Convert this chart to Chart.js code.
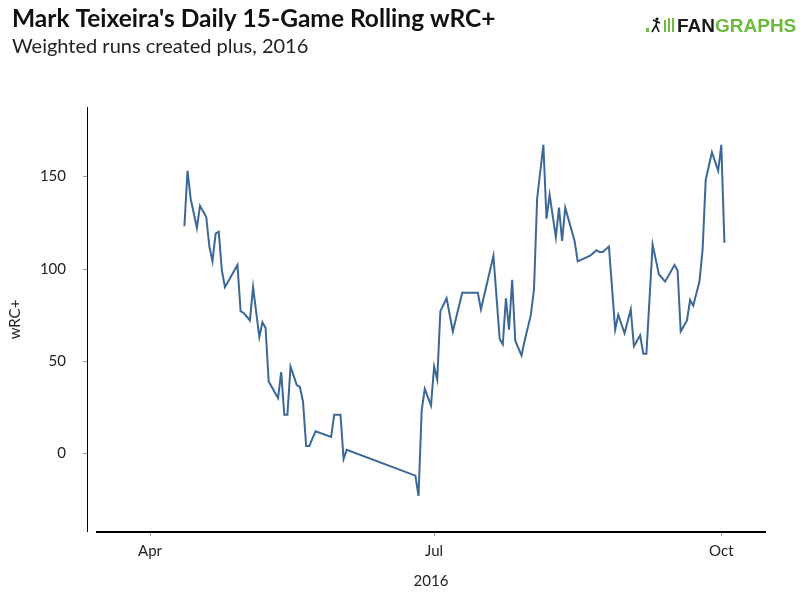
<!DOCTYPE html>
<html><head><meta charset="utf-8">
<script src="https://cdn.jsdelivr.net/npm/chart.js@4.4.0/dist/chart.umd.min.js"></script>
<style>html,body{margin:0;padding:0;background:#fff;}#wrap{width:806px;height:598px;position:relative;}</style>
</head><body><div id="wrap"><canvas id="c"></canvas></div>
<script>
const titleText = "Mark Teixeira's Daily 15-Game Rolling wRC+";
const subtitleText = "Weighted runs created plus, 2016";
const xTitleText = "2016";
const yTitleText = "wRC+";

const gameDates = [
 '2016-04-12','2016-04-13','2016-04-14','2016-04-16','2016-04-17','2016-04-19','2016-04-20','2016-04-21','2016-04-22','2016-04-23',
 '2016-04-24','2016-04-25','2016-04-29','2016-04-30','2016-05-01','2016-05-03','2016-05-04','2016-05-06','2016-05-07','2016-05-08',
 '2016-05-09','2016-05-12','2016-05-13','2016-05-14','2016-05-15','2016-05-16','2016-05-18','2016-05-19','2016-05-20','2016-05-21',
 '2016-05-22','2016-05-24','2016-05-29','2016-05-30','2016-06-01','2016-06-02','2016-06-03','2016-06-25','2016-06-26','2016-06-27',
 '2016-06-28','2016-06-30','2016-07-01','2016-07-02','2016-07-03','2016-07-05','2016-07-07','2016-07-10','2016-07-15','2016-07-16',
 '2016-07-20','2016-07-22','2016-07-23','2016-07-24','2016-07-25','2016-07-26','2016-07-27','2016-07-29','2016-07-30','2016-07-31',
 '2016-08-01','2016-08-02','2016-08-03','2016-08-05','2016-08-06','2016-08-07','2016-08-09','2016-08-10','2016-08-11','2016-08-12',
 '2016-08-15','2016-08-16','2016-08-20','2016-08-22','2016-08-23','2016-08-24','2016-08-26','2016-08-28','2016-08-29','2016-08-31',
 '2016-09-02','2016-09-03','2016-09-05','2016-09-06','2016-09-07','2016-09-09','2016-09-11','2016-09-13','2016-09-16','2016-09-17',
 '2016-09-18','2016-09-20','2016-09-21','2016-09-22','2016-09-24','2016-09-25','2016-09-26','2016-09-28','2016-09-30','2016-10-01',
 '2016-10-02'
];
const wrcPlus = [
 123,153,138,122,134,128,112,104,119,120,
 99,90,102,77,76,72,90,63,71,68,
 39,30,44,21,21,47,37,36,28,4,
 4,12,9,21,21,-3,2,-12,-23,23,
 35,26,47,40,77,84,66,87,87,78,
 107,62,59,84,67,94,61,53,61,68,
 75,89,138,167,127,140,117,133,115,133,
 115,104,107,110,109,109,112,67,75,65,
 78,58,64,54,54,113,97,93,102,99,
 66,72,83,80,93,110,148,163,153,167,
 114
];
const xTickDates = ['2016-04-01','2016-07-01','2016-10-01'];
const xTickLabels = ['Apr','Jul','Oct'];
const xRangeDates = ['2016-03-15','2016-10-15'];
const yTickValues = [0,50,100,150];
const yRange = [-42.5,187.5];

function dayOfYear(s){const p=s.split('-').map(Number);return (Date.UTC(p[0],p[1]-1,p[2])-Date.UTC(p[0],0,1))/86400000;}

const decor = {
  id:'decor',
  afterDraw(chart){
    const ctx=chart.ctx, ca=chart.chartArea, ys=chart.scales.y;
    ctx.save();
    const ax = ca.left-10;
    ctx.strokeStyle='#000'; ctx.lineWidth=1;
    ctx.beginPath(); ctx.moveTo(ax+0.5,ca.top); ctx.lineTo(ax+0.5,ca.bottom); ctx.stroke();
    ctx.strokeStyle='#999';
    yTickValues.forEach(v=>{const py=Math.round(ys.getPixelForValue(v))+0.5;ctx.beginPath();ctx.moveTo(ax-4,py);ctx.lineTo(ax,py);ctx.stroke();});
    ctx.fillStyle='#111'; ctx.textBaseline='alphabetic'; ctx.textAlign='left';
    ctx.font='bold 24.5px Lato'; ctx.fillText(titleText,12,27);
    ctx.font='20px Lato'; ctx.fillStyle='#222'; ctx.fillText(subtitleText,12,53);
    const green='#6cbb3c';
    ctx.fillStyle=green; ctx.fillRect(646,28,3,4);
    ctx.strokeStyle='#111'; ctx.lineWidth=1.6;
    ctx.beginPath(); ctx.moveTo(652,32); ctx.lineTo(656,25); ctx.lineTo(659,32); ctx.moveTo(656,25); ctx.lineTo(657,21); ctx.moveTo(653,20); ctx.lineTo(660,23); ctx.stroke();
    ctx.beginPath(); ctx.arc(657,19,1.6,0,Math.PI*2); ctx.fillStyle='#111'; ctx.fill();
    ctx.fillStyle=green; ctx.fillRect(664,20,2,12); ctx.fillRect(668,18,2,14); ctx.fillRect(672,18,2,14);
    ctx.font='bold 19px "Liberation Sans"';
    ctx.fillStyle='#1a1a1a'; ctx.fillText('FAN',677,32);
    const w=ctx.measureText('FAN').width;
    ctx.fillStyle=green; ctx.fillText('GRAPHS',677+w,32);
    ctx.restore();
  }
};

new Chart(document.getElementById('c'),{
  type:'line',
  data:{datasets:[{data:gameDates.map((d,i)=>({x:dayOfYear(d),y:wrcPlus[i]})),borderColor:'#3b6896',borderWidth:2,pointRadius:0,tension:0,fill:false}]},
  options:{
    responsive:true,maintainAspectRatio:false,animation:false,
    layout:{padding:{top:107,left:0,right:41,bottom:0}},
    plugins:{legend:{display:false},tooltip:{enabled:false}},
    scales:{
      x:{type:'linear',min:dayOfYear(xRangeDates[0]),max:dayOfYear(xRangeDates[1]),
        afterBuildTicks:s=>{s.ticks=xTickDates.map(d=>({value:dayOfYear(d)}));},
        ticks:{callback:(v,i)=>xTickLabels[i],font:{family:'Lato',size:15},color:'#222',padding:6,maxRotation:0,autoSkip:false},
        grid:{display:true,drawOnChartArea:false,tickLength:4,color:'#999'},
        border:{display:true,color:'#000',width:2},
        title:{display:true,text:xTitleText,font:{family:'Lato',size:15},color:'#222',padding:{top:2,bottom:8}},
        afterFit:s=>{s.height=66;}
      },
      y:{min:yRange[0],max:yRange[1],
        afterBuildTicks:s=>{s.ticks=yTickValues.map(v=>({value:v}));},
        ticks:{font:{family:'Lato',size:15},color:'#222',padding:23},
        grid:{display:false},
        border:{display:false},
        title:{display:true,text:yTitleText,font:{family:'Lato',size:15},color:'#222',padding:{top:6,bottom:0}},
        afterFit:s=>{s.width=97;}
      }
    }
  },
  plugins:[decor]
});
</script></body></html>
